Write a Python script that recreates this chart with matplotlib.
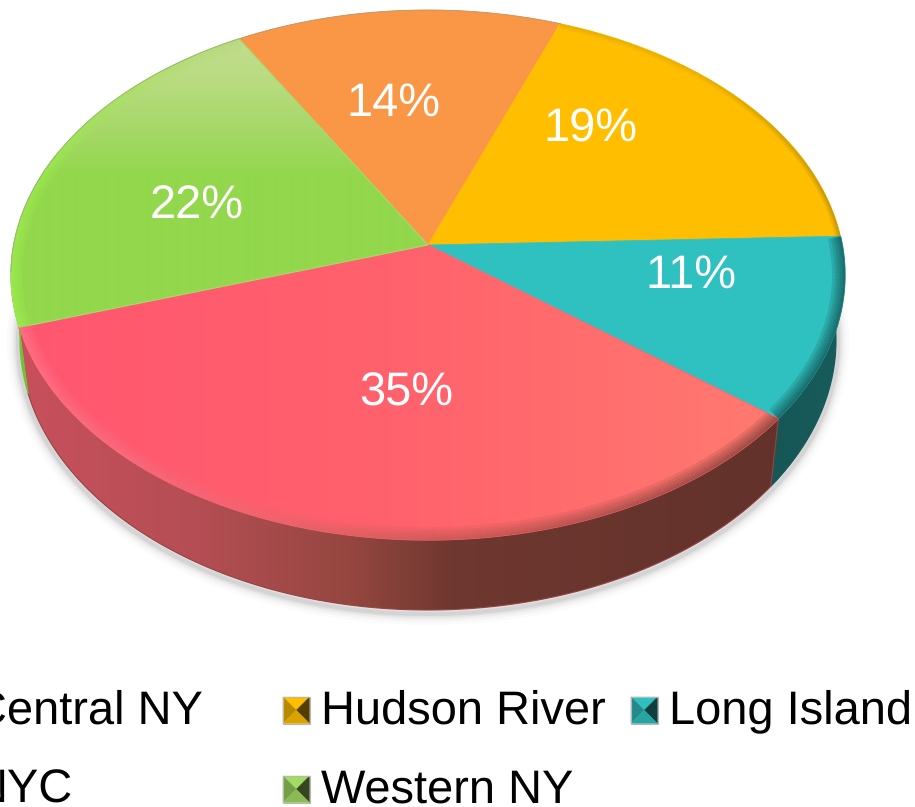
import numpy as np
import matplotlib
matplotlib.use("Agg")
import matplotlib.pyplot as plt
from matplotlib.patches import Polygon
from matplotlib.collections import LineCollection
from matplotlib.colors import to_rgb

# data, in drawing order (clockwise from the orange slice)
categories = ["Central NY", "Hudson River", "Long Island", "NYC", "Western NY"]
values = [14, 19, 11.4, 34.6, 22]
pct_labels = ["14%", "19%", "11%", "35%", "22%"]
slice_colors = ["#F99746", "#FFBE00", "#2FC1C0", "#FF6070", "#92D74C"]

W, H = 915, 807
plt.rcParams["font.family"] = ["Liberation Sans", "DejaVu Sans"]
plt.rcParams["text.hinting"] = "no_hinting"
plt.rcParams["text.hinting_factor"] = 1
fig = plt.figure(figsize=(W / 100, H / 100), dpi=100)
ax = fig.add_axes([0, 0, 1, 1])
ax.set_xlim(0, W)
ax.set_ylim(H, 0)
ax.axis("off")

AX, AY = 428.0, 245.0          # apex of the slices
CX, CY, RX, RY = 428.0, 275.0, 417.0, 265.0   # top rim ellipse
BCX, BCY, BRX, BRY = 428.0, 340.0, 408.0, 270.0  # bottom rim ellipse
TILT = 0.62
START = -29.6


def rim(theta_deg):
    t = np.radians(theta_deg)
    dx, dy = np.sin(t), -TILT * np.cos(t)
    ox, oy = (AX - CX) / RX, (AY - CY) / RY
    ux, uy = dx / RX, dy / RY
    a = ux ** 2 + uy ** 2
    b = 2 * (ox * ux + oy * uy)
    c = ox ** 2 + oy ** 2 - 1
    s = (-b + np.sqrt(b ** 2 - 4 * a * c)) / (2 * a)
    return AX + s * dx, AY + s * dy


def to_bottom(x, y):
    return BCX + BRX * (x - CX) / RX, BCY + BRY * (y - CY) / RY


def grad_fill(verts, stops, axis="x", z=2):
    """Gradient clipped to a polygon; stops = [(coord, colour), ...]."""
    pos = np.array([s[0] for s in stops], float)
    cols = np.array([to_rgb(s[1]) for s in stops])
    n = W if axis == "x" else H
    g = np.stack([np.interp(np.arange(n), pos, cols[:, i]) for i in range(3)], axis=-1)
    img = g[np.newaxis, :, :] if axis == "x" else g[:, np.newaxis, :]
    mean = cols.mean(axis=0)
    poly = Polygon(verts, closed=True, facecolor="none", edgecolor="none", zorder=z)
    ax.add_patch(poly)
    im = ax.imshow(img, extent=(0, W, H, 0), aspect="auto", zorder=z, interpolation="bilinear")
    im.set_clip_path(poly)
    ax.add_patch(Polygon(verts, closed=True, facecolor="none", edgecolor=mean, lw=0.8, zorder=z))


def rim_pts(a0, a1):
    th = np.linspace(a0, a1, max(int(abs(a1 - a0) * 2), 3))
    x, y = rim(th)
    return x, y


def wall(a0, a1, stops):
    x, y = rim_pts(a0, a1)
    bx, by = to_bottom(x, y)
    verts = np.column_stack([np.r_[x, bx[::-1]], np.r_[y, by[::-1]]])
    grad_fill(verts, stops, "x", z=2)


def bevel(a0, a1, color_at, face_poly, widths=(26, 20, 15, 10, 6, 3), alpha=0.2):
    x, y = rim_pts(a0, a1)
    pts = np.column_stack([x, y])
    segs = np.stack([pts[:-1], pts[1:]], axis=1)
    cols = [color_at(v) for v in (x[:-1] + x[1:]) / 2]
    for w in widths:
        lc = LineCollection(segs, colors=cols, linewidths=w * 0.72, alpha=alpha, zorder=4, capstyle="butt")
        ax.add_collection(lc)
        lc.set_clip_path(face_poly)


# slice boundaries from the values
frac = np.array(values, float) / np.sum(values)
edges = START + np.r_[0, np.cumsum(frac)] * 360
bounds = list(zip(edges[:-1], edges[1:]))

# soft shadow under the base
th = np.linspace(60, 300, 400)
sx = BCX + (BRX + 2) * np.sin(np.radians(th))
sy = BCY + 2 - (BRY + 2) * np.cos(np.radians(th))
for w, a in zip((22, 16, 11, 7, 4), (0.025, 0.035, 0.05, 0.07, 0.09)):
    ax.plot(sx, sy, color="#555555", lw=w * 0.72, alpha=a, zorder=1, solid_capstyle="round")

# side walls
wall(bounds[2][0], bounds[2][1], [(700, "#155352"), (850, "#175C5B")])
wall(bounds[3][0], bounds[3][1], [(20, "#C8505C"), (200, "#B44E54"), (350, "#95463F"),
                                  (450, "#6F3830"), (775, "#62322B")])
wall(bounds[4][0], bounds[4][0] + 40, [(0, "#70B838"), (40, "#7CC83A")])

# top faces
polys = []
for i, (a0, a1) in enumerate(bounds):
    x, y = rim_pts(a0, a1)
    verts = np.column_stack([np.r_[AX, x], np.r_[AY, y]])
    if i == 3:
        grad_fill(verts, [(20, "#FF5670"), (420, "#FF636C"), (780, "#FF7A70")], "x", z=3)
    elif i == 4:
        grad_fill(verts, [(30, "#C4DE90"), (75, "#BBDC82"), (130, "#A6D868"),
                          (175, "#92D74C"), (340, "#92D74C")], "y", z=3)
    else:
        ax.add_patch(Polygon(verts, closed=True, facecolor=slice_colors[i], edgecolor=slice_colors[i],
                             lw=0.5, zorder=3))
    p = Polygon(verts, closed=True, facecolor="none", edgecolor="none", zorder=3)
    ax.add_patch(p)
    polys.append(p)


def mix(stops):
    pos = [s[0] for s in stops]
    cols = np.array([to_rgb(s[1]) for s in stops])
    return lambda v: tuple(np.interp(v, pos, cols[:, i]) for i in range(3))


bevel(*bounds[1], mix([(700, "#D8A400"), (850, "#8C7410")]), polys[1], widths=(10, 6, 3), alpha=0.2)
bevel(*bounds[2], mix([(700, "#134A49"), (850, "#134A49")]), polys[2], alpha=0.17)
bevel(*bounds[3], mix([(20, "#FF7A90"), (250, "#F06A74"), (450, "#B85850"), (775, "#6E3A32")]), polys[3], alpha=0.17)
bevel(bounds[4][0], bounds[4][1], mix([(0, "#A4F850"), (60, "#A0F050"), (240, "#B8D880")]), polys[4],
      widths=(22, 15, 9, 4), alpha=0.2)

# thin outline at the far edge
x, y = rim_pts(bounds[4][0] + 12, bounds[4][1] + 50)
ax.plot(x, y, color="#8A8A7A", lw=0.6, alpha=0.5, zorder=5)

# percentage labels
label_pos = [(393, 104), (590, 129), (691, 276), (406, 393), (197, 207)]
for lab, (lx, ly) in zip(pct_labels, label_pos):
    ax.text(lx, ly, lab, color="white", fontsize=34, ha="center", va="center", zorder=6)


# legend
def bevel_marker(x0, y0, size, base):
    c = np.array(to_rgb(base))
    xm, ym = x0 + size / 2, y0 + size / 2
    x1, y1 = x0 + size, y0 + size
    faces = [
        ([(x0, y0), (x1, y0), (xm, ym)], c * 1.0),
        ([(x0, y0), (x0, y1), (xm, ym)], c * 0.72),
        ([(x1, y0), (x1, y1), (xm, ym)], c * 0.32),
        ([(x0, y1), (x1, y1), (xm, ym)], c * 0.85),
    ]
    for v, col in faces:
        ax.add_patch(Polygon(v, closed=True, facecolor=np.clip(col, 0, 1),
                             edgecolor=np.clip(col, 0, 1), lw=0.3, zorder=6))
    ax.add_patch(Polygon([(x0, y0), (x1, y0), (x1, y1), (x0, y1)], closed=True, facecolor="none",
                         edgecolor="#B8B8B0", lw=0.8, zorder=7))


legend_slots = [(-65, 697), (283, 697), (631, 697), (-65, 776), (283, 776)]
legend_colors = ["#F99746", "#FFBE00", "#2FC1C0", "#FF5A68", "#A2DC62"]
for name, (mx, my), col in zip(categories, legend_slots, legend_colors):
    bevel_marker(mx, my, 26.5, col)
    ax.text(mx + 38, my + 26.5, name, color="black", fontsize=34.2, ha="left", va="baseline", zorder=6)

ax.set_xlim(0, W)
ax.set_ylim(H, 0)
fig.savefig("out.png", dpi=100, facecolor="white")
